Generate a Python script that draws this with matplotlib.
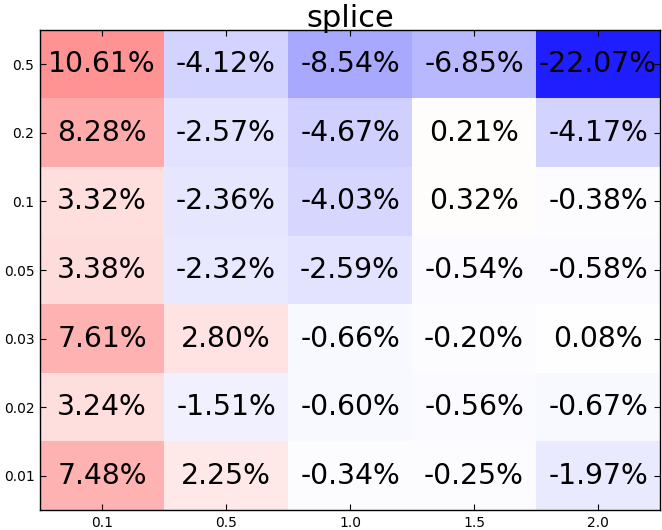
import numpy as np
import matplotlib
matplotlib.use("Agg")
import matplotlib.pyplot as plt

col_labels = ["0.1", "0.5", "1.0", "1.5", "2.0"]
row_labels = ["0.5", "0.2", "0.1", "0.05", "0.03", "0.02", "0.01"]
values = [
    [10.61, -4.12, -8.54, -6.85, -22.07],
    [8.28, -2.57, -4.67, 0.21, -4.17],
    [3.32, -2.36, -4.03, 0.32, -0.38],
    [3.38, -2.32, -2.59, -0.54, -0.58],
    [7.61, 2.80, -0.66, -0.20, 0.08],
    [3.24, -1.51, -0.60, -0.56, -0.67],
    [7.48, 2.25, -0.34, -0.25, -1.97],
]
title = "splice"

data = np.array(values)
fig = plt.figure(figsize=(6.62, 5.30), dpi=100)
ax = fig.add_axes([40/662, 1-510/530, 620/662, 480/530])
ax.imshow(data, cmap="bwr", vmin=-25, vmax=25, aspect="auto", interpolation="nearest")
for i in range(data.shape[0]):
    for j in range(data.shape[1]):
        ax.text(j, i, f"{data[i, j]:.2f}%", ha="center", va="center", fontsize=20.3, color="black")
ax.set_xticks(range(len(col_labels)))
ax.set_xticklabels(col_labels, fontsize=10)
ax.set_yticks(range(len(row_labels)))
ax.set_yticklabels(row_labels, fontsize=10)
ax.tick_params(direction="in", top=True, right=True, length=4, width=0.8, pad=4)
for s in ax.spines.values():
    s.set_linewidth(1.0)
ax.set_title(title, fontsize=22, pad=2)
fig.savefig("out.png", dpi=100)
